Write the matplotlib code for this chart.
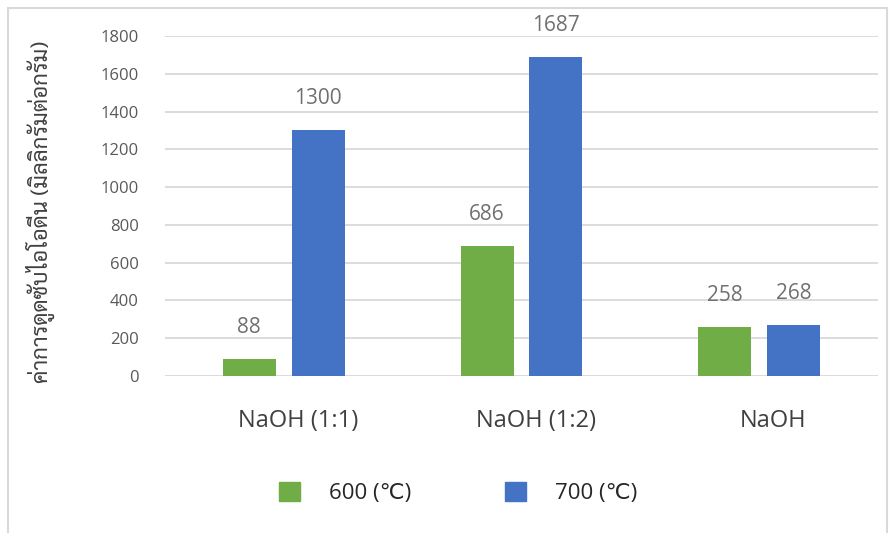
import matplotlib
matplotlib.use("Agg")
import matplotlib.pyplot as plt
from matplotlib.patches import Rectangle, Patch
import numpy as np

plt.rcParams['font.family'] = ['Open Sans', 'Sarabun', 'DejaVu Sans']

categories = ['NaOH (1:1)', 'NaOH (1:2)', 'NaOH']
series_names = ['600 (℃)', '700 (℃)']
values_600 = [88, 686, 258]
values_700 = [1300, 1687, 268]
colors = ['#70AD47', '#4472C4']
ylabel = 'ค่าการดูดซับไอโอดีน (มิลลิกรัมต่อกรัม)'

fig = plt.figure(figsize=(8.95, 5.33), dpi=100)
ax = fig.add_axes([165 / 895, (533 - 376) / 533, (878 - 165) / 895, 340 / 533])

x = np.arange(len(categories))
w = 0.223
off = 0.145
for vals, dx, c, name in [(values_600, -off, colors[0], series_names[0]),
                          (values_700, off, colors[1], series_names[1])]:
    bars = ax.bar(x + dx, vals, width=w, color=c, label=name, zorder=3)
    for b, v in zip(bars, vals):
        ax.annotate(str(v), (b.get_x() + b.get_width() / 2, v),
                    xytext=(0, 19), textcoords='offset points',
                    ha='center', va='baseline', fontsize=15, color='#707070')

ax.set_xlim(-0.5, 2.5)
ax.set_ylim(0, 1800)
ax.set_yticks(range(0, 1801, 200))
# category labels sit a little right of the bar groups
ax.set_xticks(x + 0.06)
ax.set_xticklabels(categories, fontsize=17, color='#404040')
ax.tick_params(axis='y', length=0, pad=19, labelsize=12, labelcolor='#595959')
ax.tick_params(axis='x', length=0, pad=24)
ax.yaxis.grid(True, color='#d9d9d9', lw=1.3, zorder=0)
for s in ax.spines.values():
    s.set_visible(False)

fig.text(40 / 895, (533 - 212) / 533, ylabel, rotation=90, ha='center', va='center',
         fontsize=16, color='#404040',
         family=['Sarabun', 'Open Sans', 'DejaVu Sans'])

handles = [Patch(color=colors[0]), Patch(color=colors[1])]
fig.legend(handles, series_names, loc='center left', bbox_to_anchor=(279 / 895, 40 / 533),
           ncol=2, frameon=False, fontsize=16, labelcolor='#262626',
           handlelength=0.95, handleheight=0.9, handletextpad=1.3,
           columnspacing=4.2, borderpad=0, borderaxespad=0)

fig.patches.append(Rectangle((8 / 895, -0.02), 879 / 895, (525 / 533) + 0.02,
                             transform=fig.transFigure, fill=False,
                             edgecolor='#d9d9d9', lw=1.5))

fig.savefig('out.png', dpi=100)
